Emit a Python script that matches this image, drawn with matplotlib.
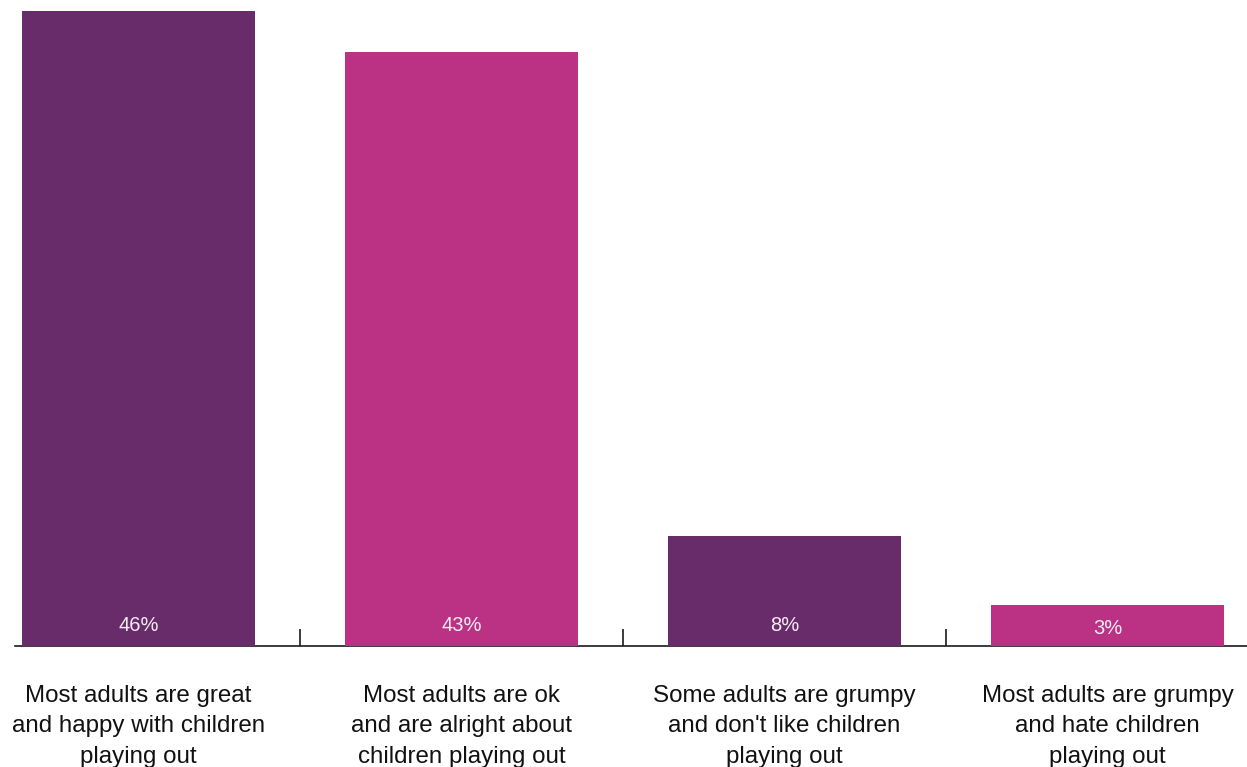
import matplotlib
matplotlib.use("Agg")
import matplotlib.pyplot as plt
from matplotlib.ticker import FixedLocator

categories = [
    "Most adults are great\nand happy with children\nplaying out",
    "Most adults are ok\nand are alright about\nchildren playing out",
    "Some adults are grumpy\nand don't like children\nplaying out",
    "Most adults are grumpy\nand hate children\nplaying out",
]
values = [46, 43, 8, 3]
value_labels = ["46%", "43%", "8%", "3%"]
colors = ["#682C6B", "#BB3285", "#682C6B", "#BB3285"]

plt.rcParams["font.family"] = ["Liberation Sans", "DejaVu Sans"]

fig = plt.figure(figsize=(12.47, 7.67), dpi=100)
ax = fig.add_axes([15 / 1247, 1 - 646 / 767, 1 - 15 / 1247, 646 / 767])

x = list(range(len(values)))
ax.bar(x, values, width=0.721, color=colors, zorder=3)

ax.set_xlim(-0.382, 3.432)
ax.set_ylim(0, 46 * 646 / 635)

for xi, v, lab in zip(x, values, value_labels):
    ax.text(xi, min(v / 2, 1.68) - 0.22, lab, ha="center", va="center",
            color="#F4ECF2", fontsize=14.5, zorder=4)

for side in ("top", "right", "left"):
    ax.spines[side].set_visible(False)
ax.spines["bottom"].set_color("#1a1a1a")
ax.spines["bottom"].set_linewidth(1.2)
ax.spines["bottom"].set_zorder(2)
ax.set_yticks([])

ax.set_xticks(x)
ax.set_xticklabels(categories, fontsize=17.4, linespacing=1.5, color="#111111")
ax.tick_params(axis="x", which="major", length=0, pad=28)
ax.xaxis.set_minor_locator(FixedLocator([0.5, 1.5, 2.5]))
ax.tick_params(axis="x", which="minor", direction="in", length=12.2,
               width=1.2, color="#1a1a1a")

fig.savefig("out.png", dpi=100)
